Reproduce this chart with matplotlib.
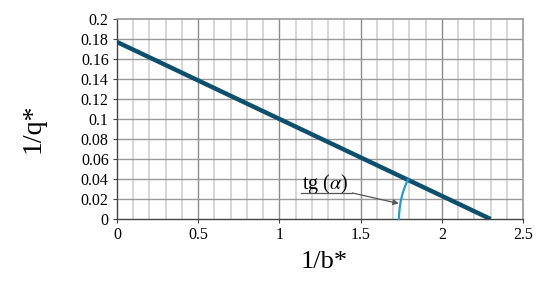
import numpy as np
import matplotlib
matplotlib.use('Agg')
import matplotlib.pyplot as plt

plt.rcParams['font.family'] = ['Liberation Serif', 'DejaVu Serif']
plt.rcParams['mathtext.fontset'] = 'stix'

# данные прямой 1/q* = f(1/b*)
inv_b = [0.0, 2.3]
inv_q = [0.177, 0.0]
x_ticks = [0, 0.5, 1, 1.5, 2, 2.5]
x_tick_labels = ['0', '0.5', '1', '1.5', '2', '2.5']
y_ticks = [0, 0.02, 0.04, 0.06, 0.08, 0.1, 0.12, 0.14, 0.16, 0.18, 0.2]
y_tick_labels = ['0', '0.02', '0.04', '0.06', '0.08', '0.1', '0.12', '0.14', '0.16', '0.18', '0.2']

fig = plt.figure(figsize=(5.5, 2.9), dpi=100)
ax = fig.add_axes([117 / 550, 71 / 290, 406 / 550, 200 / 290])
ax.set_xlim(0, 2.5)
ax.set_ylim(0, 0.2)

# сетка
for xv in np.arange(0.1, 2.5, 0.1):
    major = abs(xv / 0.5 - round(xv / 0.5)) < 1e-6
    ax.axvline(xv, color='#8c8c8c' if major else '#cfcfcf', lw=1.0 if major else 1.2, zorder=1)
for yv in y_ticks[1:-1]:
    ax.axhline(yv, color='#999999', lw=1.0, zorder=1)

ax.plot(inv_b, inv_q, color='#0e4f6e', lw=3.2, solid_capstyle='butt', zorder=3)

# дуга угла alpha
slope_px = (inv_q[0] - inv_q[1]) * 1000 / ((inv_b[1] - inv_b[0]) * 162.4)
alpha = np.arctan(slope_px)
r_px = 91.5
t = np.linspace(np.pi - alpha, np.pi, 50)
ax.plot(inv_b[1] + r_px / 162.4 * np.cos(t), r_px / 1000 * np.sin(t),
        color='#2a9cc4', lw=1.6, zorder=4, clip_on=False)

# подпись tg(alpha)
ax.text(1.14, 0.0295, r'tg ($\alpha$)', fontsize=14.5, ha='left', va='baseline', zorder=5)
ax.plot([1.13, 1.45], [0.026, 0.026], color='#555555', lw=0.9, zorder=5)
ax.annotate('', xy=(1.735, 0.0155), xytext=(1.45, 0.026),
            arrowprops=dict(arrowstyle='-|>', color='#555555', lw=0.9,
                            mutation_scale=8, shrinkA=0, shrinkB=0), zorder=5)

ax.set_xticks(x_ticks)
ax.set_xticklabels(x_tick_labels)
ax.set_yticks(y_ticks)
ax.set_yticklabels(y_tick_labels)
ax.tick_params(labelsize=11.5, length=3, width=0.8, color='#444444', pad=3)

for side in ['left', 'bottom']:
    ax.spines[side].set_color('#444444')
    ax.spines[side].set_linewidth(1.0)
for side in ['top', 'right']:
    ax.spines[side].set_color('#9a9a9a')
    ax.spines[side].set_linewidth(1.2)

fig.text(33 / 550, 1 - 128 / 290, '1/q*', rotation=90, ha='center', va='center', fontsize=20)
fig.text(324 / 550, 1 - 262 / 290, '1/b*', ha='center', va='center', fontsize=19)

fig.savefig('out.png', dpi=100)
